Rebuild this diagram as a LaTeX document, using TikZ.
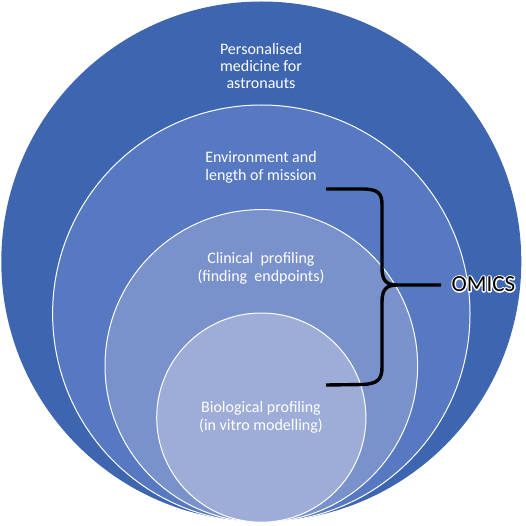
\documentclass[tikz,border=0pt]{standalone}
\usepackage{fontspec}
\setmainfont{Carlito}
\definecolor{c1}{HTML}{3D65B0}
\definecolor{c2}{HTML}{5679C2}
\definecolor{c3}{HTML}{7A92CB}
\definecolor{c4}{HTML}{9EADD8}
\newcommand{\outlinedtext}[1]{%
  \rlap{\special{pdf:literal direct q 1 Tr 2.6 w 1 1 1 RG 1 j}#1\special{pdf:literal direct Q}}%
  #1}
\begin{document}
\begin{tikzpicture}[x=1pt,y=-1pt,
  ring/.style={circle,inner sep=0pt,minimum size=#1,draw=white,line width=1pt},
  lbl/.style={text=white,align=center,font=\fontsize{16}{17.4}\selectfont},
  bracepath/.style={line width=3.4pt,black,line cap=butt,line join=round}]
\useasboundingbox (0,0) rectangle (526,526);
\node[ring=520pt,fill=c1,draw=none] (outer) at (261.3,261.5) {};
\node[ring=417.4pt,fill=c2] (env) at (261.3,313.7) {};
\node[ring=312.6pt,fill=c3] (clin) at (261.3,365.9) {};
\node[ring=209.2pt,fill=c4] (bio) at (261.3,417.6) {};
\node[lbl] (t1) at (261,66) {Personalised\\medicine for\\astronauts};
\node[lbl] (t2) at (261,167.5) {Environment and\\length of mission};
\node[lbl] (t3) at (261,268.5) {Clinical\ \ profiling\\(finding\ \ endpoints)};
\node[lbl] (t4) at (261,417.5) {Biological profiling\\(in vitro modelling)};
\coordinate (btop) at (326,189);
\coordinate (bbot) at (326,385);
\coordinate (bcusp) at (397,285);
\coordinate (btip) at (441,285);
\draw[bracepath] (btop) -- (362,189) .. controls (378,189) and (382,193) .. (382,205)
  -- (382,268) .. controls (382,280) and (386,285) .. (bcusp) -- (btip);
\draw[bracepath] (bcusp) .. controls (386,285) and (382,290) .. (382,302)
  -- (382,367) .. controls (382,379) and (378,384) .. (362,384.5) -- (bbot);
\node[text=black,font=\fontsize{23}{24}\selectfont] (omics) at (483.5,284) {\outlinedtext{OMICS}};
\end{tikzpicture}
\end{document}
